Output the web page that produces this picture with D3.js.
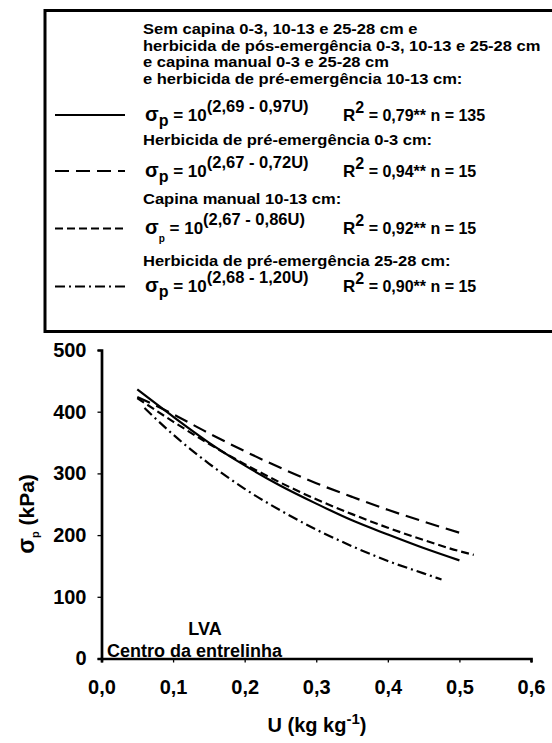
<!DOCTYPE html>
<html lang="pt">
  <head>
    <meta charset="UTF-8" />
    <title>Pressão de preconsolidação x umidade</title>
    <script src="https://d3js.org/d3.v7.min.js"></script>
    <style>
      body { margin: 0; background: #fff; }
      svg text { font-family: "Liberation Sans", Arial, sans-serif; font-weight: bold; fill: #000; }
    </style>
  </head>
  <body>
    <div class="chart"></div>
  </body>

  <script>
    // values (U in kg/kg, sigma_p in kPa)
    var solidPts = [[0.05, 436], [0.1, 392], [0.15, 350], [0.2, 313], [0.25, 280], [0.3, 251], [0.35, 224], [0.4, 201], [0.45, 179], [0.5, 159]];
    var longDashPts = [[0.05, 424], [0.1, 396], [0.15, 365], [0.2, 336], [0.25, 309], [0.3, 284], [0.35, 262], [0.4, 241], [0.45, 222], [0.505, 202]];
    var shortDashPts = [[0.05, 422], [0.1, 384], [0.15, 348], [0.2, 315], [0.25, 285], [0.3, 258], [0.35, 234], [0.4, 212], [0.45, 192], [0.5, 174], [0.52, 168]];
    var dashDotPts = [[0.06, 406], [0.1, 363], [0.15, 316], [0.2, 275], [0.25, 240], [0.3, 209], [0.35, 182], [0.4, 158], [0.45, 138], [0.475, 128]];

    var xTicks = [0, 0.1, 0.2, 0.3, 0.4, 0.5, 0.6];
    var yTicks = [0, 100, 200, 300, 400, 500];

    var legendHeaders = [
      ["Sem capina  0-3, 10-13 e 25-28 cm e", "herbicida de pós-emergência 0-3, 10-13 e 25-28 cm", "e capina manual 0-3 e 25-28 cm", "e herbicida de pré-emergência 10-13 cm:"],
      ["Herbicida de pré-emergência 0-3 cm:"],
      ["Capina manual 10-13 cm:"],
      ["Herbicida de pré-emergência 25-28 cm:"]
    ];
    var eqExponents = ["(2,69 - 0,97U)", "(2,67 - 0,72U)", "(2,67 - 0,86U)", "(2,68 - 1,20U)"];
    var r2Values = ["0,79**", "0,94**", "0,92**", "0,90**"];
    var nValues = ["135", "15", "15", "15"];

    var series = [solidPts, longDashPts, shortDashPts, dashDotPts];
    var dashes = [null, "14,7", "8,4", "10,4,2,4"];

    var W = 552, H = 743;
    var svg = d3.select(".chart").append("svg").attr("width", W).attr("height", H);

    // ---- legend box ----
    svg.append("rect")
      .attr("x", 45).attr("y", 10.5)
      .attr("width", 520).attr("height", 321)
      .attr("fill", "none").attr("stroke", "#000").attr("stroke-width", 3);

    var headerY = [[34, 50.5, 67, 83.5], [145], [204], [266]];
    var eqY = [120.5, 176.5, 234, 292];

    legendHeaders.forEach(function (lines, i) {
      lines.forEach(function (t, j) {
        // the original font is a wide (stretched) Arial
        svg.append("text")
          .attr("transform", "translate(143," + headerY[i][j] + ") scale(1.14,1)")
          .style("font-size", "14.5px").text(t);
      });

      var y0 = eqY[i];
      svg.append("line")
        .attr("x1", 55).attr("x2", 125)
        .attr("y1", y0 - 5.5).attr("y2", y0 - 5.5)
        .attr("stroke", "#000").attr("stroke-width", 2.2)
        .attr("stroke-dasharray", dashes[i]);

      var eq = svg.append("text").attr("x", 145).attr("y", y0);
      eq.append("tspan").style("font-size", "20px").text("σ");
      eq.append("tspan").style("font-size", i == 2 ? "10px" : "16px")
        .attr("dy", i == 2 ? 8 : 5).text("p");
      eq.append("tspan").style("font-size", "17px")
        .attr("dy", i == 2 ? -8 : -5).text(" = 10");
      eq.append("tspan").style("font-size", "16.5px").attr("dy", -9).text(eqExponents[i]);

      var r = svg.append("text").attr("x", 343).attr("y", y0);
      r.append("tspan").style("font-size", "17px").text("R");
      r.append("tspan").style("font-size", "16px").attr("dy", -8).text("2");
      r.append("tspan").style("font-size", "16px").attr("dy", 8)
        .text(" = " + r2Values[i] + "  n = " + nValues[i]);
    });

    // ---- plot ----
    var x = d3.scaleLinear().domain([0, 0.6]).range([101.5, 531]);
    var y = d3.scaleLinear().domain([0, 500]).range([658.5, 350]);

    var fmt = function (d) { return d3.format(".1f")(d).replace(".", ","); };

    var xAxis = svg.append("g")
      .attr("transform", "translate(0," + y(0) + ")")
      .call(d3.axisBottom(x).tickValues(xTicks).tickSize(4).tickPadding(17).tickFormat(fmt));
    var yAxis = svg.append("g")
      .attr("transform", "translate(" + x(0) + ",0)")
      .call(d3.axisLeft(y).tickValues(yTicks).tickSize(4).tickPadding(11));

    [xAxis, yAxis].forEach(function (a) {
      a.select(".domain").attr("stroke", "#000").attr("stroke-width", 2.7);
      a.selectAll(".tick line").attr("stroke", "#000").attr("stroke-width", 1.3);
      a.selectAll("text").style("font-size", "20px")
        .style("font-family", "'Liberation Sans', Arial, sans-serif")
        .style("font-weight", "bold").attr("fill", "#000");
    });

    var line = d3.line()
      .x(function (d) { return x(d[0]); })
      .y(function (d) { return y(d[1]); })
      .curve(d3.curveMonotoneX);

    series.forEach(function (pts, i) {
      svg.append("path")
        .datum(pts)
        .attr("fill", "none")
        .attr("stroke", "#000")
        .attr("stroke-width", 2.2)
        .attr("stroke-dasharray", dashes[i])
        .attr("d", line);
    });

    // annotations
    svg.append("text").attr("x", 205).attr("y", 635).attr("text-anchor", "middle")
      .style("font-size", "18px").text("LVA");
    svg.append("text").attr("x", 107).attr("y", 657)
      .style("font-size", "18px").text("Centro da entrelinha");

    // axis titles
    var xt = svg.append("text").attr("x", 317).attr("y", 732).attr("text-anchor", "middle");
    xt.append("tspan").style("font-size", "20px").text("U (kg kg");
    xt.append("tspan").style("font-size", "15px").attr("dy", -8).text("-1");
    xt.append("tspan").style("font-size", "20px").attr("dy", 8).text(")");

    var yt = svg.append("text")
      .attr("transform", "translate(34,514) rotate(-90)")
      .attr("text-anchor", "middle");
    yt.append("tspan").style("font-size", "23px").text("σ");
    yt.append("tspan").style("font-size", "11px").attr("dy", 5).text("p");
    yt.append("tspan").style("font-size", "21px").attr("dy", -5).text(" (kPa)");
  </script>
</html>
